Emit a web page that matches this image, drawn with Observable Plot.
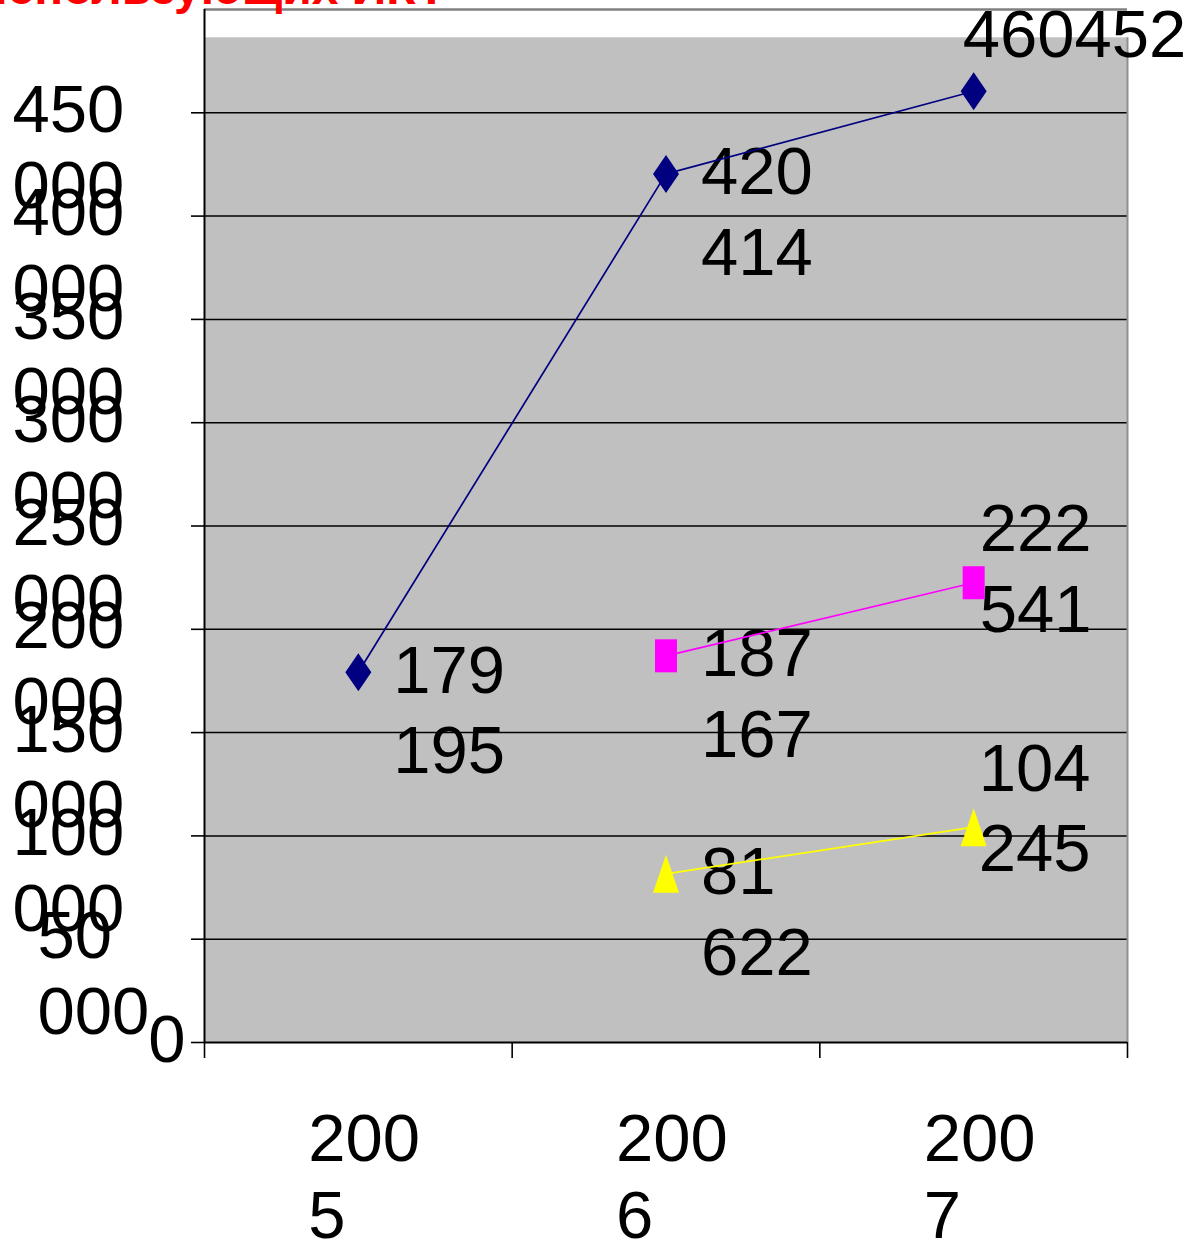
<!DOCTYPE html>
<html><head><meta charset="utf-8">
<script src="https://cdn.jsdelivr.net/npm/d3@7"></script>
<script src="https://cdn.jsdelivr.net/npm/@observablehq/plot@0.6"></script>
<style>
html,body{margin:0;padding:0;background:#fff;overflow:hidden;width:1192px;height:1247px}
#wrap{position:relative;width:1192px;height:1247px}
#title{position:absolute;top:-36px;right:746px;font:bold 48px/48px "Liberation Sans",Arial,sans-serif;color:#ff0000;white-space:nowrap;z-index:2}
#chart svg{display:block}
</style></head><body>
<div id="wrap"><div id="chart"></div><div id="title"></div></div>
<script>
// ---- data ----
const titleText = "использующих ИКТ";
const years = ["2005", "2006", "2007"];
const seriesNames = ["Ряд 1", "Ряд 2", "Ряд 3"];
const valuesSeries1 = [179195, 420414, 460452];
const valuesSeries2 = [null, 187167, 222541];
const valuesSeries3 = [null, 81622, 104245];
const yTickValues = [0, 50000, 100000, 150000, 200000, 250000, 300000, 350000, 400000, 450000];
const yTickLabels = ["0", "50 000", "100 000", "150 000", "200 000", "250 000", "300 000", "350 000", "400 000", "450 000"];
const yMax = 500000;
const shadedTop = 486300;

// ---- styles ----
const seriesColors = ["#000080", "#ff00ff", "#ffff00"];
const tallDiamond = {draw(c){ c.moveTo(0,-19); c.lineTo(13,0); c.lineTo(0,19); c.lineTo(-13,0); c.closePath(); }};
const tallSquare = {draw(c){ c.moveTo(-11,-16.5); c.lineTo(11,-16.5); c.lineTo(11,16.5); c.lineTo(-11,16.5); c.closePath(); }};
const tallTriangle = {draw(c){ c.moveTo(0,-19); c.lineTo(13,19); c.lineTo(-13,19); c.closePath(); }};
const seriesSymbols = [tallDiamond, tallSquare, tallTriangle];
const fs = 67, topShift = 0.71 * fs + 12;
const font = "Liberation Sans, Arial, sans-serif";

document.getElementById("title").textContent = titleText;

const allSeries = [valuesSeries1, valuesSeries2, valuesSeries3];
const rows = [];
allSeries.forEach((vals, s) => vals.forEach((v, i) => {
  if (v != null) rows.push({series: seriesNames[s], s, year: years[i], xi: i + 0.5, value: v});
}));

const fmt = v => d3.format(",")(v).replace(/,/g, " ");
function placement(d) {
  if (d.year !== years[2]) return {dx: 35, base: 23, wrap: true, sep: true};
  if (d.s === 0) return {dx: -11, base: -32, wrap: false, sep: false};
  if (d.s === 1) return {dx: 6, base: -29, wrap: true, sep: true};
  return {dx: 5, base: -34, wrap: true, sep: true};
}

const labelMarks = rows.map(d => {
  const p = placement(d);
  let t = p.sep ? fmt(d.value) : String(d.value);
  if (p.wrap) t = t.replace(" ", "\n");
  return Plot.text([d], {x: "xi", y: "value", text: () => t, fontSize: fs, lineHeight: 1.2,
    textAnchor: "start", lineAnchor: "top", dx: p.dx, dy: p.base - topShift, fill: "black"});
});

const ticks = yTickValues.map((v, i) => ({v, label: yTickLabels[i]}));
const yText = (filter, opts) => Plot.text(ticks.filter(filter), {
  y: "v", text: d => d.label.replace(" ", "\n"), frameAnchor: "left", fontSize: fs, lineHeight: 1.13,
  lineAnchor: "top", dy: 25 - topShift, fill: "black", ...opts});

const lineMarks = allSeries.map((_, s) => Plot.line(rows.filter(r => r.s === s), {x: "xi", y: "value", stroke: seriesColors[s], strokeWidth: 1.7}));
const dotMarks = allSeries.map((_, s) => Plot.dot(rows.filter(r => r.s === s), {x: "xi", y: "value", symbol: seriesSymbols[s], fill: seriesColors[s], stroke: "none"}));

const chart = Plot.plot({
  width: 1192, height: 1247,
  marginLeft: 204, marginRight: 65, marginTop: 9, marginBottom: 205,
  x: {domain: [0, years.length]},
  y: {domain: [0, yMax]},
  style: {fontFamily: font, background: "white", overflow: "visible"},
  marks: [
    Plot.rect([{y1: 0, y2: shadedTop}], {y1: "y1", y2: "y2", fill: "#c0c0c0"}),
    Plot.ruleY(yTickValues.filter(v => v > 0), {stroke: "black", strokeWidth: 1.5}),
    Plot.ruleY([yMax], {stroke: "#808080", strokeWidth: 2.5}),
    Plot.ruleX([years.length], {y1: 0, y2: shadedTop, stroke: "#909090", strokeWidth: 2}),
    Plot.axisY({ticks: yTickValues, tickSize: 13, tickFormat: () => "", label: null, strokeWidth: 1.6, stroke: "black"}),
    Plot.axisX({ticks: d3.range(years.length + 1), tickSize: 16, tickFormat: () => "", label: null, strokeWidth: 1.6, stroke: "black"}),
    Plot.ruleX([0], {stroke: "black", strokeWidth: 2}),
    Plot.ruleY([0], {stroke: "black", strokeWidth: 2}),
    yText(d => d.v >= 100000, {textAnchor: "start", dx: -192}),
    yText(d => d.v === 50000, {textAnchor: "start", dx: -167}),
    yText(d => d.v === 0, {textAnchor: "end", dx: -19}),
    Plot.text(years, {x: (d, i) => i + 0.5, text: d => d.slice(0, 3) + "\n" + d.slice(3), frameAnchor: "bottom",
      fontSize: fs, lineHeight: 1.15, textAnchor: "start", lineAnchor: "top", dx: -50, dy: 123 - topShift, fill: "black"}),
    ...labelMarks,
    ...lineMarks,
    ...dotMarks
  ]
});
document.getElementById("chart").appendChild(chart);
</script></body></html>
